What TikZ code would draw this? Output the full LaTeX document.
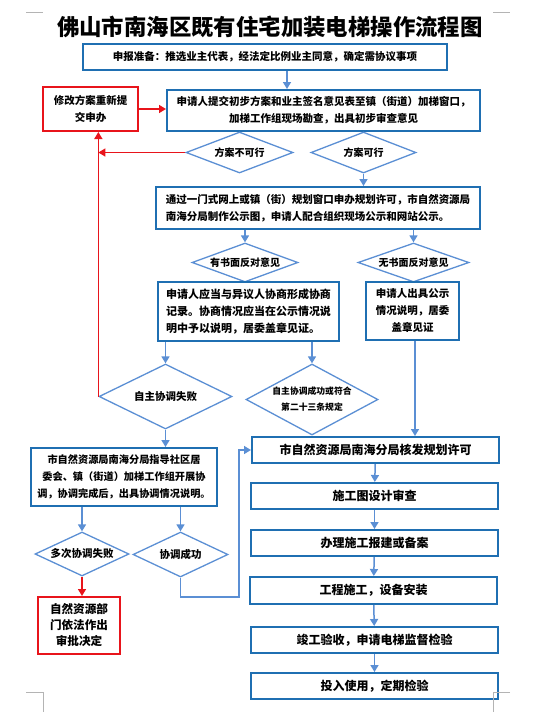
\documentclass[tikz,border=0pt]{standalone}
\usepackage{fontspec}
\usepackage{xcolor}
\usepackage{tikz}
\usetikzlibrary{arrows.meta,shapes.geometric}
\setmainfont{Noto Sans CJK SC}
\definecolor{boxblue}{HTML}{1F6FB2}
\definecolor{linkblue}{HTML}{5B8FD4}
\definecolor{alarm}{HTML}{E8141B}
\definecolor{markgray}{HTML}{B4B4B4}

\begin{document}
\begin{tikzpicture}[
  x=1pt,y=-1pt,
  font=\fontsize{10.5}{17}\selectfont\bfseries,
  stage/.style={draw=boxblue,line width=2pt,fill=white,inner sep=0pt,align=center},
  bigstage/.style={stage,font=\fontsize{12}{17}\selectfont\bfseries},
  redo/.style={stage,draw=alarm},
  choice/.style={diamond,draw=linkblue,line width=1.3pt,fill=white,inner sep=0pt,
    aspect=2,align=center},
  flow/.style={-{Triangle[length=7pt,width=8pt]},line width=1.5pt,draw=linkblue},
  backflow/.style={flow,draw=alarm},
  cropmark/.style={draw=markgray,line width=0.8pt}
]
  \useasboundingbox (0,0) rectangle (548,724);

  \node[font=\fontsize{22.4}{26}\selectfont\bfseries] (title) at (270,27)
    {佛山市南海区既有住宅加装电梯操作流程图};

  \node[stage,minimum width=364pt,minimum height=26pt] (prep) at (265,57)
    {申报准备：推选业主代表，经法定比例业主同意，确定需协议事项};
  \node[stage,minimum width=313pt,minimum height=41pt] (submit) at (323.5,110.5)
    {申请人提交初步方案和业主签名意见表至镇（街道）加梯窗口，\\加梯工作组现场勘查，出具初步审查意见};
  \node[redo,minimum width=95pt,minimum height=44pt] (revise) at (90.5,109)
    {修改方案重新提\\交申办};

  \node[choice,minimum width=107pt,minimum height=41pt,font=\fontsize{10}{17}\selectfont\bfseries]
    (infeasible) at (239.5,152.5) {方案不可行};
  \node[choice,minimum width=105pt,minimum height=41pt,font=\fontsize{10}{17}\selectfont\bfseries]
    (feasible) at (363.5,152.5) {方案可行};

  \node[stage,minimum width=324pt,minimum height=42pt,align=left] (apply) at (318,208)
    {通过一门式网上或镇（街）规划窗口申办规划许可，市自然资源局\\南海分局制作公示图，申请人配合组织现场公示和网站公示。};

  \node[choice,minimum width=106pt,minimum height=39pt,aspect=2.7,font=\fontsize{10}{17}\selectfont\bfseries]
    (objection) at (245,262.5) {有书面反对意见};
  \node[choice,minimum width=111pt,minimum height=39pt,aspect=2.7,font=\fontsize{10}{17}\selectfont\bfseries]
    (noobjection) at (413.5,262.5) {无书面反对意见};

  \node[stage,minimum width=181pt,minimum height=59pt,align=left,font=\fontsize{11}{17}\selectfont\bfseries]
    (consult) at (248.5,311.5)
    {申请人应当与异议人协商形成协商\\记录。协商情况应当在公示情况说\\明中予以说明，居委盖章见证。};
  \node[stage,minimum width=93pt,minimum height=58pt] (statement) at (412.5,311)
    {申请人出具公示\\情况说明，居委\\盖章见证};

  \node[choice,minimum width=133pt,minimum height=65pt] (selffail) at (165.5,396.5)
    {自主协调失败};
  \node[choice,minimum width=132pt,minimum height=71pt,aspect=1.85,
    font=\fontsize{8.8}{16}\selectfont\bfseries] (selfok) at (312,399.5)
    {自主协调成功或符合\\第二十三条规定};

  \node[stage,minimum width=186pt,minimum height=58pt,font=\fontsize{10.2}{17}\selectfont\bfseries]
    (guide) at (124,477)
    {市自然资源局南海分局指导社区居\\委会、镇（街道）加梯工作组开展协\\调，协调完成后，出具协调情况说明。};

  \node[choice,minimum width=94pt,minimum height=44pt,aspect=2.1] (multifail) at (82,554)
    {多次协调失败};
  \node[choice,minimum width=95pt,minimum height=45pt,aspect=2.1] (coordok) at (180.5,554.5)
    {协调成功};
  \node[redo,minimum width=82pt,minimum height=57pt,font=\fontsize{11.6}{16}\selectfont\bfseries]
    (decision) at (79,625.5) {自然资源部\\门依法作出\\审批决定};

  \node[bigstage,minimum width=247pt,minimum height=26pt] (permit) at (375.5,450)
    {市自然资源局南海分局核发规划许可};
  \node[bigstage,minimum width=247pt,minimum height=26pt] (drawing) at (374.5,496)
    {施工图设计审查};
  \node[bigstage,minimum width=247pt,minimum height=26pt] (filing) at (374.5,543)
    {办理施工报建或备案};
  \node[bigstage,minimum width=247pt,minimum height=27pt] (install) at (373.5,590.5)
    {工程施工，设备安装};
  \node[bigstage,minimum width=247pt,minimum height=26pt] (accept) at (374.5,640)
    {竣工验收，申请电梯监督检验};
  \node[bigstage,minimum width=247pt,minimum height=26pt] (inuse) at (374.5,686)
    {投入使用，定期检验};

  \coordinate (bend) at (239,597);

  \draw[flow] ([xshift=22pt]prep.south) -- ([xshift=22pt]prep.south |- submit.north);
  \draw[backflow] (revise.east) -- (revise.east -| submit.west);
  \draw[backflow] (infeasible.west) -- (infeasible.west -| selffail.west);
  \draw[backflow] (selffail.west) -- (selffail.west |- revise.south);
  \draw[flow] (feasible.south) -- (feasible.south |- apply.north);
  \draw[flow] (objection.north |- apply.south) -- (objection.north);
  \draw[flow] (noobjection.north |- apply.south) -- (noobjection.north);
  \draw[flow] (selffail.north |- consult.south) -- (selffail.north);
  \draw[flow] (selfok.north |- consult.south) -- (selfok.north);
  \draw[flow] ([xshift=2.5pt]statement.south) -- ([xshift=2.5pt]statement.south |- permit.north);
  \draw[flow] (selffail.south) -- (selffail.south |- guide.north);
  \draw[flow] (multifail.north |- guide.south) -- (multifail.north);
  \draw[flow] (coordok.north |- guide.south) -- (coordok.north);
  \draw[backflow] (multifail.south) -- (multifail.south |- decision.north);
  \draw[flow] (coordok.south) |- (bend) |- (permit.west);

  \draw[flow] (permit) -- (drawing);
  \draw[flow] (drawing) -- (filing);
  \draw[flow] (filing) -- (install);
  \draw[flow] (install) -- (accept);
  \draw[flow] (accept) -- (inuse);

  % page corner marks
  \draw[cropmark] (26,12) -- (43,12);
  \draw[cropmark] (493,12) -- (510,12);
  \draw[cropmark] (26,692) -- (43,692) -- (43,712);
  \draw[cropmark] (510,692) -- (493,692) -- (493,712);
\end{tikzpicture}
\end{document}
